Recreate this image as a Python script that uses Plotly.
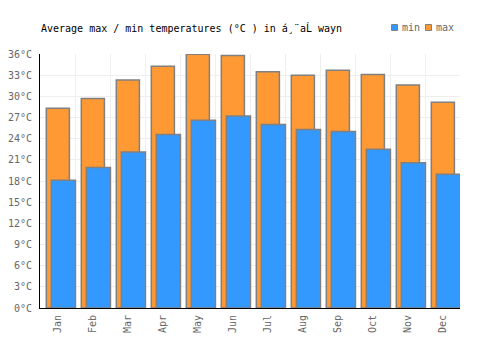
import plotly.graph_objects as go

months = ["Jan", "Feb", "Mar", "Apr", "May", "Jun", "Jul", "Aug", "Sep", "Oct", "Nov", "Dec"]
max_temps = [28.3, 29.7, 32.3, 34.25, 35.95, 35.8, 33.5, 33.0, 33.7, 33.1, 31.6, 29.15]
min_temps = [18.1, 19.9, 22.1, 24.6, 26.6, 27.2, 26.0, 25.3, 25.0, 22.5, 20.6, 18.95]
y_ticks = list(range(0, 37, 3))

BLUE = "#3399ff"
ORANGE = "#ff9933"
EDGE = "#808080"
FONT = "DejaVu Sans Mono"

L, R, T, B = 40, 40, 54, 42
W, H = 500, 350
pw, ph = W - L - R, H - T - B

def px_x(x):
    return (x - L) / pw

def px_y(y):
    return (H - B - y) / ph

fig = go.Figure()
fig.add_trace(go.Bar(
    x=months, y=max_temps, name="max",
    marker=dict(color=ORANGE, line=dict(color=EDGE, width=1.5)),
    offset=-0.32, width=0.66, showlegend=False,
))
fig.add_trace(go.Bar(
    x=months, y=min_temps, name="min",
    marker=dict(color=BLUE, line=dict(color=EDGE, width=1.5)),
    offset=-0.177, width=0.69, showlegend=False,
))

fig.update_layout(
    width=W, height=H,
    margin=dict(l=L, r=R, t=T, b=B, pad=0, autoexpand=False),
    paper_bgcolor="white", plot_bgcolor="white",
    barmode="overlay",
    font=dict(family=FONT, size=10, color="#666666"),
    xaxis=dict(
        type="category", tickson="boundaries", showgrid=True,
        gridcolor="#eeeeee", gridwidth=1, automargin=False,
        showline=True, linecolor="black", linewidth=1,
        ticks="", tickangle=-90, mirror=False, ticklabelstandoff=2,
        tickfont=dict(family=FONT, size=10, color="#666666"),
        range=[-0.5, 11.5],
    ),
    yaxis=dict(
        range=[0, 36], tickvals=y_ticks,
        ticktext=[f"{v}°C" for v in y_ticks],
        showgrid=True, gridcolor="#eeeeee", gridwidth=1, automargin=False,
        showline=True, linecolor="black", linewidth=1,
        zeroline=False, ticks="", ticklabelstandoff=5,
        tickfont=dict(family=FONT, size=10, color="#666666"),
    ),
    annotations=[
        dict(text="Average max / min temperatures (°C ) in á¸¨aĹ\u00a0wayn",
             xref="paper", yref="paper", x=px_x(39), y=px_y(28),
             xanchor="left", yanchor="middle", showarrow=False,
             font=dict(family=FONT, size=10, color="black")),
        dict(text="min", xref="paper", yref="paper", x=px_x(400), y=px_y(28),
             xanchor="left", yanchor="middle", showarrow=False,
             font=dict(family=FONT, size=10, color="#666666")),
        dict(text="max", xref="paper", yref="paper", x=px_x(434), y=px_y(28),
             xanchor="left", yanchor="middle", showarrow=False,
             font=dict(family=FONT, size=10, color="#666666")),
    ],
    shapes=[
        dict(type="rect", xref="paper", yref="paper",
             x0=px_x(391.5), x1=px_x(397.5), y0=px_y(30.5), y1=px_y(24.5),
             fillcolor=BLUE, line=dict(color=EDGE, width=1)),
        dict(type="rect", xref="paper", yref="paper",
             x0=px_x(425.5), x1=px_x(431.5), y0=px_y(30.5), y1=px_y(24.5),
             fillcolor=ORANGE, line=dict(color=EDGE, width=1)),
    ],
)

fig.write_html("out.html")
